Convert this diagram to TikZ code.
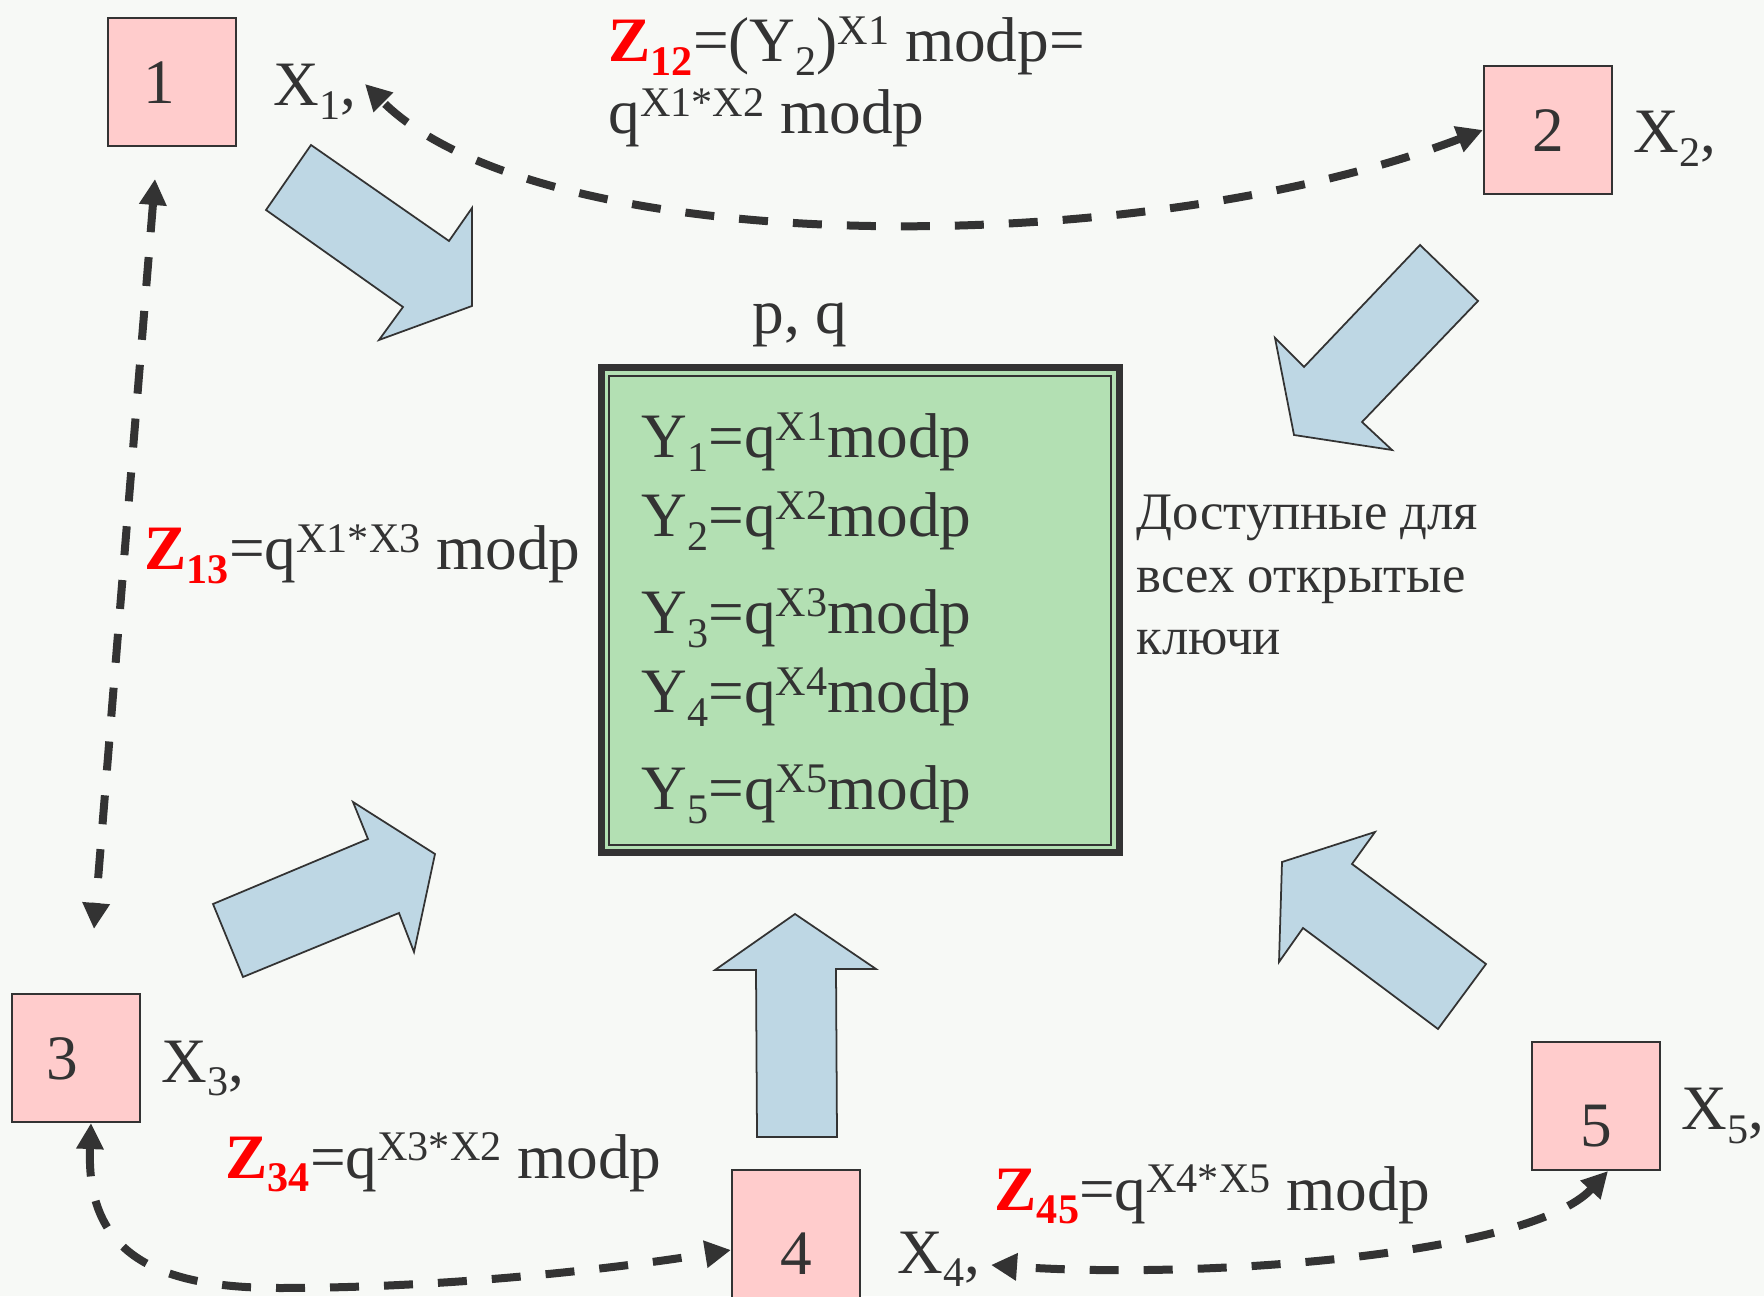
\documentclass[tikz,border=0pt]{standalone}
\usepackage{fontspec}
\setmainfont{Liberation Serif}
\usetikzlibrary{arrows.meta, calc}

\definecolor{bgcol}{RGB}{247,249,246}
\definecolor{txtgray}{RGB}{51,51,51}
\definecolor{pinkfill}{RGB}{255,204,204}
\definecolor{bluefill}{RGB}{190,215,228}
\definecolor{greenfill}{RGB}{179,224,179}

\newcommand{\tsub}[1]{\raisebox{-0.22em}{\fontsize{12}{12}\selectfont #1}}
\newcommand{\tsup}[1]{\raisebox{0.28em}{\fontsize{12}{12}\selectfont #1}}
\newcommand{\zkey}[1]{\textcolor{red}{\textbf{Z\tsub{#1}}}}

\begin{document}
\begin{tikzpicture}[
    >={Triangle[length=2.6mm, width=2.6mm]}, % tips of the key arrows
    txt/.style={text=txtgray, font=\fontsize{18}{20.5}\selectfont, inner sep=0pt},
    party/.style={draw=txtgray, fill=pinkfill, line width=0.6pt, minimum width=1.28cm,
        minimum height=1.28cm, inner sep=0pt, text height=0.43cm, text depth=0pt,
        text=txtgray, font=\fontsize{18}{20.5}\selectfont},
    lowdigit/.style={text height=0.81cm}, % digit sits lower in the box
    blockarrow/.style={draw=txtgray, fill=bluefill, line width=0.5pt, line join=miter},
    keyline/.style={draw=txtgray, line width=0.8mm, dash pattern=on 2.9mm off 2.5mm, <->}
]

% Page
\useasboundingbox (0,0) rectangle (17.64,12.96);
\fill[bgcol] (0,0) rectangle (17.64,12.96);

% Public key board
\node[draw=txtgray, fill=greenfill, line width=0.7mm, outer sep=0pt,
    minimum width=5.18cm, minimum height=4.85cm] (pub) at (8.60,6.855) {};
\draw[txtgray, line width=0.2mm] ($(pub.north west)+(0.08,-0.08)$) rectangle ($(pub.south east)+(-0.08,0.08)$);

\foreach \i/\yb in {1/8.38, 2/7.59, 3/6.62, 4/5.83, 5/4.86}
    \node[txt, anchor=base west] (y\i) at (6.41,\yb) {Y\tsub{\i}=q\tsup{X\i}modp};

\node[txt, anchor=base west] (pq) at (7.52,9.62) {p, q};
\node[txt, font=\fontsize{15}{17.9}\selectfont, align=left, anchor=base west] (opentxt) at (11.36,6.41)
    {Доступные для\\всех открытые\\ключи};

% Participants
\node[party] (b1) at (1.72,12.14) {1\kern0.26cm};
\node[party] (b2) at (15.48,11.66) {2};
\node[party] (b3) at (0.76,2.38) {3\kern0.28cm};
\node[party, lowdigit] (b4) at (7.96,0.62) {4};
\node[party, lowdigit] (b5) at (15.96,1.90) {5};

% Secret keys
\node[txt, anchor=base west] (x1) at (2.73,11.90) {X\tsub{1},};
\node[txt, anchor=base west] (x2) at (16.33,11.43) {X\tsub{2},};
\node[txt, anchor=base west] (x3) at (1.61,2.14) {X\tsub{3},};
\node[txt, anchor=base west] (x4) at (8.97,0.23) {X\tsub{4},};
\node[txt, anchor=base west] (x5) at (16.81,1.66) {X\tsub{5},};

% Block arrows towards the board
\draw[blockarrow] (2.66,10.86) -- (3.11,11.51) -- (4.49,10.55) -- (4.72,10.88) -- (4.72,9.90) -- (3.79,9.56) -- (4.03,9.89) -- cycle;
\draw[blockarrow] (14.20,10.51) -- (14.78,9.95) -- (13.62,8.74) -- (13.92,8.46) -- (12.94,8.61) -- (12.75,9.58) -- (13.04,9.29) -- cycle;
\draw[blockarrow] (2.13,3.92) -- (3.68,4.57) -- (3.53,4.94) -- (4.35,4.42) -- (4.14,3.44) -- (3.99,3.83) -- (2.43,3.19) -- cycle;
\draw[blockarrow] (7.95,3.82) -- (8.76,3.27) -- (8.36,3.27) -- (8.37,1.59) -- (7.57,1.59) -- (7.56,3.26) -- (7.15,3.26) -- cycle;
\draw[blockarrow] (13.75,4.64) -- (13.52,4.32) -- (14.86,3.32) -- (14.38,2.67) -- (13.03,3.68) -- (12.79,3.34) -- (12.82,4.34) -- cycle;

% Shared keys
\node[txt, align=left, anchor=base west] (z12) at (6.08,11.62)
    {\zkey{12}=(Y\tsub{2})\tsup{X1} modp=\\q\tsup{X1*X2} modp};
\node[txt, anchor=base west] (z13) at (1.44,7.26) {\zkey{13}=q\tsup{X1*X3} modp};
\node[txt, anchor=base west] (z34) at (2.25,1.18) {\zkey{34}=q\tsup{X3*X2} modp};
\node[txt, anchor=base west] (z45) at (9.94,0.86) {\zkey{45}=q\tsup{X4*X5} modp};

% Exchange paths
\coordinate (x1tip) at (3.65,12.12);
\coordinate (z13top) at (1.55,11.17);
\coordinate (z13bot) at (0.94,3.67);
\coordinate (x4tip) at (9.91,0.31);

\draw[keyline] (b2.west) .. controls (11.33,10.33) and (5.40,10.37) .. (x1tip);
\draw[keyline] (z13top) -- (z13bot);
\draw[keyline] ([xshift=0.15cm]b3.south) .. controls (0.86,0.46) and (1.50,0.08) .. (2.80,0.08)
    .. controls (4.50,0.08) and (6.20,0.28) .. ([yshift=-0.16cm]b4.west);
\draw[keyline] ([xshift=0.12cm]b5.south) .. controls (15.30,0.41) and (12.00,0.16) .. (x4tip);

\end{tikzpicture}
\end{document}
